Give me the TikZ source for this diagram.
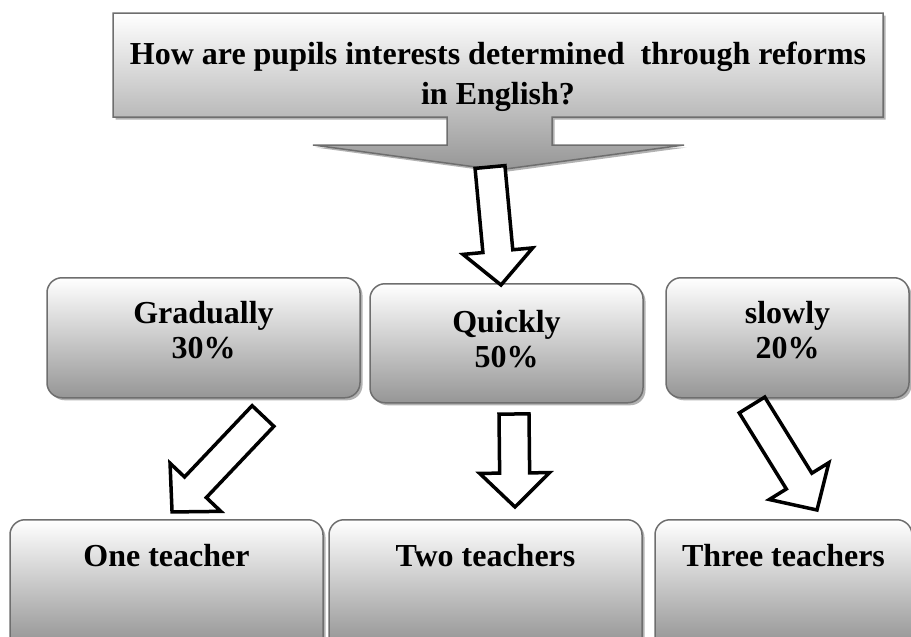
\documentclass[tikz,border=0pt]{standalone}
\usepackage{fontspec}
\setmainfont{Liberation Serif}
\usetikzlibrary{calc,shadows}

\definecolor{rimgray}{RGB}{110,110,110}
\definecolor{shadegray}{RGB}{150,150,150}

\tikzset{
  boxtext/.style={font=\bfseries\fontsize{32}{35}\selectfont, align=center},
  boxshadow/.style={drop shadow={shadow xshift=2.5pt, shadow yshift=-2.5pt, fill=black!30, opacity=1}},
  midbox/.style={boxtext, draw=rimgray, line width=1.5pt, rounded corners=15pt,
    top color=white, bottom color=shadegray, inner sep=0pt, anchor=north,
    text height=81pt, text depth=39pt, boxshadow},
  lowbox/.style={midbox, text height=47pt, text depth=103pt, bottom color=black!50},
  calloutbox/.style={draw=rimgray, line width=1.5pt, top color=white, bottom color=shadegray, boxshadow},
  blockarr/.style={draw=black, fill=white, line width=3.5pt, line join=miter}
}

% hollow block arrow from #1 to #2
\newcommand\bigarrow[2]{%
  \path let \p1=($(#2)-(#1)$), \n1={atan2(\y1,\x1)}, \n2={veclen(\x1,\y1)} in
    \pgfextra{\xdef\arrang{\n1}\xdef\arrlen{\n2}};
  \begin{scope}[shift={(#1)}, rotate=\arrang]
    \draw[blockarr] (0pt,15pt) -- ({\arrlen-34pt},15pt) -- ({\arrlen-34pt},35pt)
      -- ({\arrlen},0pt) -- ({\arrlen-34pt},-35pt) -- ({\arrlen-34pt},-15pt)
      -- (0pt,-15pt) -- cycle;
  \end{scope}}

\begin{document}
\begin{tikzpicture}[x=1pt,y=-1pt]
  \useasboundingbox (0,0) rectangle (911,637);

  % question callout
  \path[calloutbox] (113,13) -- (883,13) -- (883,117) -- (552,117) -- (552,145)
    -- (684,145) -- (498,170) -- (313,145) -- (447,145) -- (447,117) -- (113,117) -- cycle;
  \node[boxtext, font=\bfseries\fontsize{32}{40}\selectfont] (ask) at (498,77)
    {How are pupils interests determined\ \ through reforms\\in English?};
  \coordinate (asktip) at (490,167);

  % speeds
  \node[midbox, minimum width=313pt] (grad) at (203.5,277) {Gradually\\30\%};
  \node[midbox, minimum width=273pt, text height=84pt, text depth=35pt] (quick) at (506.5,283) {Quickly\\50\%};
  \node[midbox, minimum width=243pt] (slow) at (787.5,277) {slowly\\20\%};

  % teachers
  \node[lowbox, minimum width=313pt] (one) at (166.5,519) {One teacher};
  \node[lowbox, minimum width=313pt] (two) at (485.5,519) {Two teachers};
  \node[lowbox, minimum width=257pt] (three) at (783.5,519) {Three teachers};

  % arrow ends
  \coordinate (quicktop) at (501,285);
  \coordinate (gradout) at (263,416);
  \coordinate (quickout) at (514,414);
  \coordinate (slowout) at (752,405);
  \coordinate (onein) at (172,512);
  \coordinate (twoin) at (515,507);
  \coordinate (threein) at (817,510);

  \bigarrow{asktip}{quicktop}
  \bigarrow{gradout}{onein}
  \bigarrow{quickout}{twoin}
  \bigarrow{slowout}{threein}
\end{tikzpicture}
\end{document}
